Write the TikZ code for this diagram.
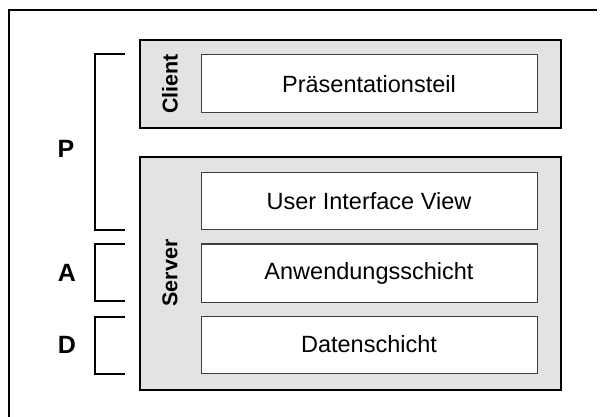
\documentclass[tikz,border=0pt]{standalone}
\usepackage{fontspec}
\setmainfont{Liberation Sans}
\definecolor{boxgrey}{HTML}{E3E3E3}
\definecolor{innerline}{HTML}{404040}
\begin{document}
\begin{tikzpicture}[x=1pt,y=-1pt,
  outerbox/.style={draw=black,line width=2.8pt,fill=boxgrey},
  layerbox/.style={draw=innerline,line width=1pt,fill=white,
    font=\fontsize{23.5}{26}\selectfont},
  sidelabel/.style={font=\fontsize{21.5}{24}\selectfont\bfseries,rotate=90},
  tierlabel/.style={font=\fontsize{25}{28}\selectfont\bfseries},
  bracket/.style={draw=black,line width=2.2pt},
  frameline/.style={draw=black,line width=1.3pt}]
\useasboundingbox (0,0) rectangle (603,417);
% frame
\coordinate (f1) at (597,10);
\coordinate (f0) at (9,10);
\coordinate (f2) at (9,417);
\draw[frameline] (f1) -- (f0) -- (f2);
% client
\draw[outerbox] (140,40) rectangle (561,128);
\node[sidelabel] (client) at (170,84) {Client};
\draw[layerbox] (201,55) rectangle node (praes) {Präsentationsteil} (537,113);
% server
\draw[outerbox] (140,157) rectangle (561,390);
\node[sidelabel] (server) at (170,273) {Server};
\draw[layerbox] (201,173) rectangle node (ui) {User Interface View} (537,230);
\draw[layerbox] (201,244) rectangle node (anw) {Anwendungsschicht} (537,302);
\draw[layerbox] (201,316) rectangle node (daten) {Datenschicht} (537,373);
% brackets
\coordinate (p1) at (125,54);
\coordinate (p2) at (95,54);
\coordinate (p3) at (95,230);
\coordinate (p4) at (125,230);
\draw[bracket] (p1) -- (p2) -- (p3) -- (p4);
\coordinate (a1) at (125,244);
\coordinate (a2) at (95,244);
\coordinate (a3) at (95,301);
\coordinate (a4) at (125,301);
\draw[bracket] (a1) -- (a2) -- (a3) -- (a4);
\coordinate (d1) at (125,317);
\coordinate (d2) at (95,317);
\coordinate (d3) at (95,374);
\coordinate (d4) at (125,374);
\draw[bracket] (d1) -- (d2) -- (d3) -- (d4);
\node[tierlabel] (P) at (66,149) {P};
\node[tierlabel] (A) at (67,273) {A};
\node[tierlabel] (D) at (67,345) {D};
\end{tikzpicture}
\end{document}
